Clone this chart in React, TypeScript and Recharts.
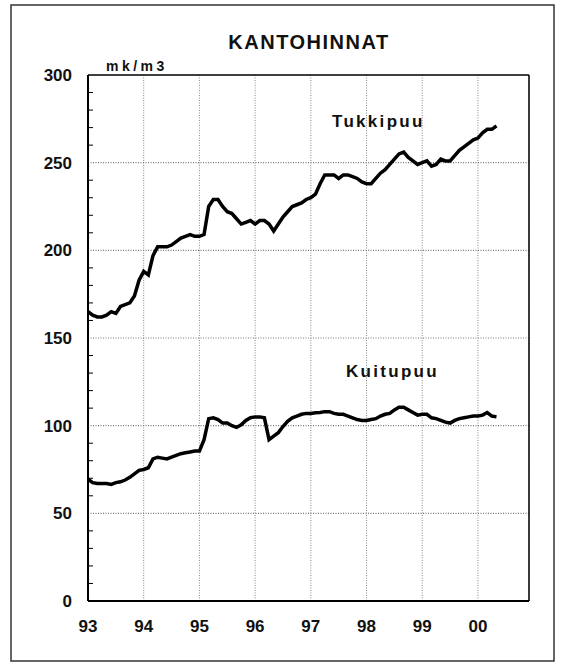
import { CartesianGrid, Line, LineChart, ReferenceLine, XAxis, YAxis } from "recharts";

// monthly stumpage prices from Jan 1993, mk/m3
const tukkipuu = [
  165, 163, 162, 162, 163, 165, 164, 168, 169, 170, 174, 183,
  188, 186, 197, 202, 202, 202, 203, 205, 207, 208, 209, 208,
  208, 209, 225, 229, 229, 225, 222, 221, 218, 215, 216, 217,
  215, 217, 217, 215, 211, 215, 219, 222, 225, 226, 227, 229,
  230, 232, 238, 243, 243, 243, 241, 243, 243, 242, 241, 239,
  238, 238, 241, 244, 246, 249, 252, 255, 256, 253, 251, 249,
  250, 251, 248, 249, 252, 251, 251, 254, 257, 259, 261, 263,
  264, 267, 269, 269, 271,
];
const kuitupuu = [
  69.5, 67.5, 67, 67, 67, 66.5, 67.5, 68, 69, 70.5, 72.5, 74.5,
  75, 76, 81, 82, 81.5, 81, 82, 83, 84, 84.5, 85, 85.5,
  85.5, 92, 104, 104.5, 103.5, 101.5, 101.5, 100, 99, 100.5, 103, 104.5,
  105, 105, 104.5, 92, 94, 96, 99.5, 102.5, 104.5, 105.5, 106.5, 107,
  107, 107.3, 107.5, 108, 108, 107, 106.5, 106.5, 105.5, 104.5, 103.5, 103,
  103, 103.5, 104, 105.5, 106.5, 107, 109, 110.5, 110.5, 109, 107.5, 106,
  106.5, 106.5, 104.5, 104, 103, 102, 101.5, 103, 104, 104.5, 105, 105.5,
  105.5, 106, 107.5, 105.5, 105,
];
const yearLabels = ["93", "94", "95", "96", "97", "98", "99", "00"];
const yearTicks = yearLabels.map((_, i) => i * 12);
const yTicks = Array.from({ length: 31 }, (_, i) => i * 10);
const yGridLines = [50, 100, 150, 200, 250];

const data = tukkipuu.map((v, i) => ({ m: i, Tukkipuu: v, Kuitupuu: kuitupuu[i] }));

const font = "'Liberation Sans', Arial, Helvetica, sans-serif";

function YTick({ x, y, payload }: any) {
  const v = payload.value;
  return (
    <g>
      {v > 0 && v < 300 && v % 50 !== 0 && <line x1={x} y1={y} x2={x + 5} y2={y} stroke="#000" strokeWidth={1} />}
      {v % 50 === 0 && (
        <text x={x - 16} y={y} dy="0.355em" textAnchor="end" fontSize={17} fontWeight="bold" fontFamily={font} fill="#111">
          {v}
        </text>
      )}
    </g>
  );
}

export default function App() {
  return (
    <div style={{ position: "absolute", left: 0, top: 0, width: 563, height: 665, background: "#fff" }}>
      <LineChart width={563} height={665} data={data} margin={{ top: 75, right: 34, bottom: 34, left: 28 }}>
        <CartesianGrid horizontal={false} stroke="#888" strokeDasharray="1 1.5" />
        {yGridLines.map((v) => (
          <ReferenceLine key={v} y={v} stroke="#777" strokeWidth={1.2} strokeDasharray="1 1.5" ifOverflow="extendDomain" />
        ))}
        <XAxis
          dataKey="m"
          type="number"
          domain={[0, 95]}
          ticks={yearTicks}
          tickFormatter={(v) => yearLabels[v / 12]}
          tickLine={false}
          tickSize={0}
          tickMargin={19}
          height={30}
          axisLine={{ stroke: "#000", strokeWidth: 2 }}
          tick={{ fontSize: 17, fontWeight: "bold", fontFamily: font, fill: "#111" }}
        />
        <YAxis
          domain={[0, 300]}
          ticks={yTicks}
          interval={0}
          width={60}
          tickLine={false}
          tickSize={0}
          tickMargin={0}
          axisLine={{ stroke: "#000", strokeWidth: 2 }}
          tick={<YTick />}
        />
        <ReferenceLine y={300} stroke="#000" strokeWidth={1.5} />
        <ReferenceLine x={95} stroke="#000" strokeWidth={1.5} />
        <Line type="linear" dataKey="Tukkipuu" stroke="#000" strokeWidth={3.5} dot={false} isAnimationActive={false} />
        <Line type="linear" dataKey="Kuitupuu" stroke="#000" strokeWidth={3.5} dot={false} isAnimationActive={false} />
      </LineChart>
      <svg width={563} height={665} style={{ position: "absolute", left: 0, top: 0, pointerEvents: "none" }}>
        <rect x={11} y={5} width={543} height={656} fill="none" stroke="#333" strokeWidth={1.5} />
        <g fontFamily={font} fontWeight="bold" fill="#111">
          <text x={309} y={49} textAnchor="middle" fontSize={20} letterSpacing={1.5}>KANTOHINNAT</text>
          <text x={106} y={70.5} fontSize={14} letterSpacing={3.5}>mk/m3</text>
          <text x={332} y={127} fontSize={17} letterSpacing={2.3}>Tukkipuu</text>
          <text x={346} y={377} fontSize={17} letterSpacing={2.3}>Kuitupuu</text>
        </g>
      </svg>
    </div>
  );
}
